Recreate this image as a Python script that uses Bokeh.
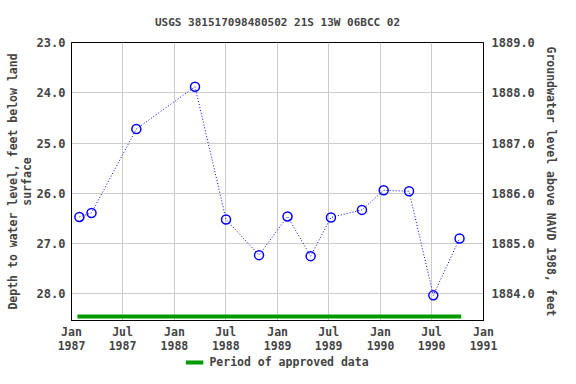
import pandas as pd
from bokeh.plotting import figure
from bokeh.layouts import column
from bokeh.models import (Range1d, LinearAxis, FixedTicker, Legend, LegendItem,
                          NumeralTickFormatter, ColumnDataSource)
from bokeh.embed import file_html
from bokeh.resources import INLINE

# ---- data ----
sample_dates = ["1987-01-29", "1987-03-13", "1987-08-19", "1988-03-14",
                "1988-07-02", "1988-10-27", "1989-02-05", "1989-04-28",
                "1989-07-09", "1989-10-27", "1990-01-12", "1990-04-12",
                "1990-07-07", "1990-10-08"]
depth_ft = [26.47, 26.39, 24.72, 23.88, 26.52, 27.23, 26.46, 27.25,
            26.48, 26.33, 25.94, 25.96, 28.03, 26.90]
land_surface_ft = 1912.0

approved_dates = ["1987-01-22", "1990-10-14"]
approved_depth = [28.45, 28.45]

x_tick_dates = ["1987-01-01", "1987-07-01", "1988-01-01", "1988-07-01",
                "1989-01-01", "1989-07-01", "1990-01-01", "1990-07-01",
                "1991-01-01"]
x_tick_labels = ["Jan\n1987", "Jul\n1987", "Jan\n1988", "Jul\n1988",
                 "Jan\n1989", "Jul\n1989", "Jan\n1990", "Jul\n1990",
                 "Jan\n1991"]
depth_ticks = [23, 24, 25, 26, 27, 28]
elev_ticks = [1884, 1885, 1886, 1887, 1888, 1889]

title_text = "USGS 381517098480502 21S 13W 06BCC 02"
left_label = "Depth to water level, feet below land\nsurface"
right_label = "Groundwater level above NAVD 1988, feet"
legend_label = "Period of approved data"

depth_top, depth_bottom = 23.0, 28.53

def to_ms(lst):
    return [float(v) for v in (pd.to_datetime(lst).astype("int64") // 10**6)]

xs = to_ms(sample_dates)
xt = to_ms(x_tick_dates)
xa = to_ms(approved_dates)

FONT = "DejaVu Sans Mono"
GREEN = "#009900"

p = figure(width=560, height=356, output_backend="svg", toolbar_location=None,
           x_axis_type="datetime",
           x_range=Range1d(xt[0], xt[-1]),
           y_range=Range1d(depth_bottom, depth_top),
           min_border_left=71, min_border_right=76, min_border_top=42,
           min_border_bottom=34)

p.title.text = title_text
p.title.align = "center"
p.title.vertical_align = "top"
p.title.standoff = 24
p.title.text_font = FONT
p.title.text_font_size = "11px"
p.title.text_font_style = "bold"

p.outline_line_color = "black"
p.outline_line_width = 1

src = ColumnDataSource(dict(x=xs, y=depth_ft))
p.line("x", "y", source=src, line_color="blue", line_width=1, line_dash="1 2")
p.scatter("x", "y", source=src, marker="circle", size=9, fill_color=None,
          line_color="blue", line_width=1.5)

p.line(xa, approved_depth, line_color=GREEN, line_width=4)

# x axis
xaxis = p.xaxis[0]
xaxis.ticker = FixedTicker(ticks=xt)
xaxis.major_label_overrides = {t: lab for t, lab in zip(xt, x_tick_labels)}
xaxis.major_label_text_font = FONT
xaxis.major_label_text_font_size = "11.5px"
xaxis.major_label_text_font_style = "bold"
xaxis.major_label_text_line_height = 1.05
xaxis.major_label_standoff = 4
xaxis.major_tick_in = 0
xaxis.major_tick_out = 0
xaxis.minor_tick_in = 0
xaxis.minor_tick_out = 0
xaxis.axis_line_color = "black"

# left axis
yaxis = p.yaxis[0]
yaxis.ticker = FixedTicker(ticks=depth_ticks)
yaxis.formatter = NumeralTickFormatter(format="0.0")
yaxis.axis_label = left_label
yaxis.axis_label_text_font = FONT
yaxis.axis_label_text_font_size = "11.5px"
yaxis.axis_label_text_font_style = "bold"
yaxis.axis_label_text_line_height = 1.0
yaxis.axis_label_standoff = 0
yaxis.major_label_text_font = FONT
yaxis.major_label_text_font_size = "12px"
yaxis.major_label_text_font_style = "bold"
yaxis.major_label_standoff = 6
yaxis.major_tick_in = 0
yaxis.major_tick_out = 0
yaxis.minor_tick_in = 0
yaxis.minor_tick_out = 0

# right axis
p.extra_y_ranges = {"elev": Range1d(land_surface_ft - depth_bottom,
                                    land_surface_ft - depth_top)}
raxis = LinearAxis(y_range_name="elev", ticker=FixedTicker(ticks=elev_ticks),
                   formatter=NumeralTickFormatter(format="0.0"))
raxis.axis_label = right_label
raxis.axis_label_text_font = FONT
raxis.axis_label_text_font_size = "11.5px"
raxis.axis_label_text_font_style = "bold"
raxis.axis_label_standoff = 6
raxis.major_label_text_font = FONT
raxis.major_label_text_font_size = "12px"
raxis.major_label_text_font_style = "bold"
raxis.major_label_standoff = 8
raxis.major_tick_in = 0
raxis.major_tick_out = 0
raxis.minor_tick_in = 0
raxis.minor_tick_out = 0
p.add_layout(raxis, "right")

p.xgrid.grid_line_color = "#cccccc"
p.ygrid.grid_line_color = "#cccccc"
p.xgrid.ticker = FixedTicker(ticks=xt)
p.ygrid.ticker = FixedTicker(ticks=depth_ticks)

# legend strip below the chart
lf = figure(width=560, height=12, output_backend="svg", toolbar_location=None,
            x_range=Range1d(0, 1), y_range=Range1d(0, 1), min_border=0,
            x_axis_location=None, y_axis_location=None)
lf.outline_line_color = None
lf.grid.visible = False
swatch = lf.line(xa, approved_depth, line_color=GREEN, line_width=4)
legend = Legend(items=[LegendItem(label=legend_label, renderers=[swatch])],
                location="center", orientation="horizontal",
                border_line_color=None, background_fill_alpha=0,
                padding=0, margin=0, glyph_width=18, glyph_height=12,
                label_height=12, label_standoff=6,
                label_text_font=FONT, label_text_font_size="11.5px",
                label_text_font_style="bold")
lf.add_layout(legend, "center")

open("out.html", "w").write(file_html(column(p, lf), INLINE))
